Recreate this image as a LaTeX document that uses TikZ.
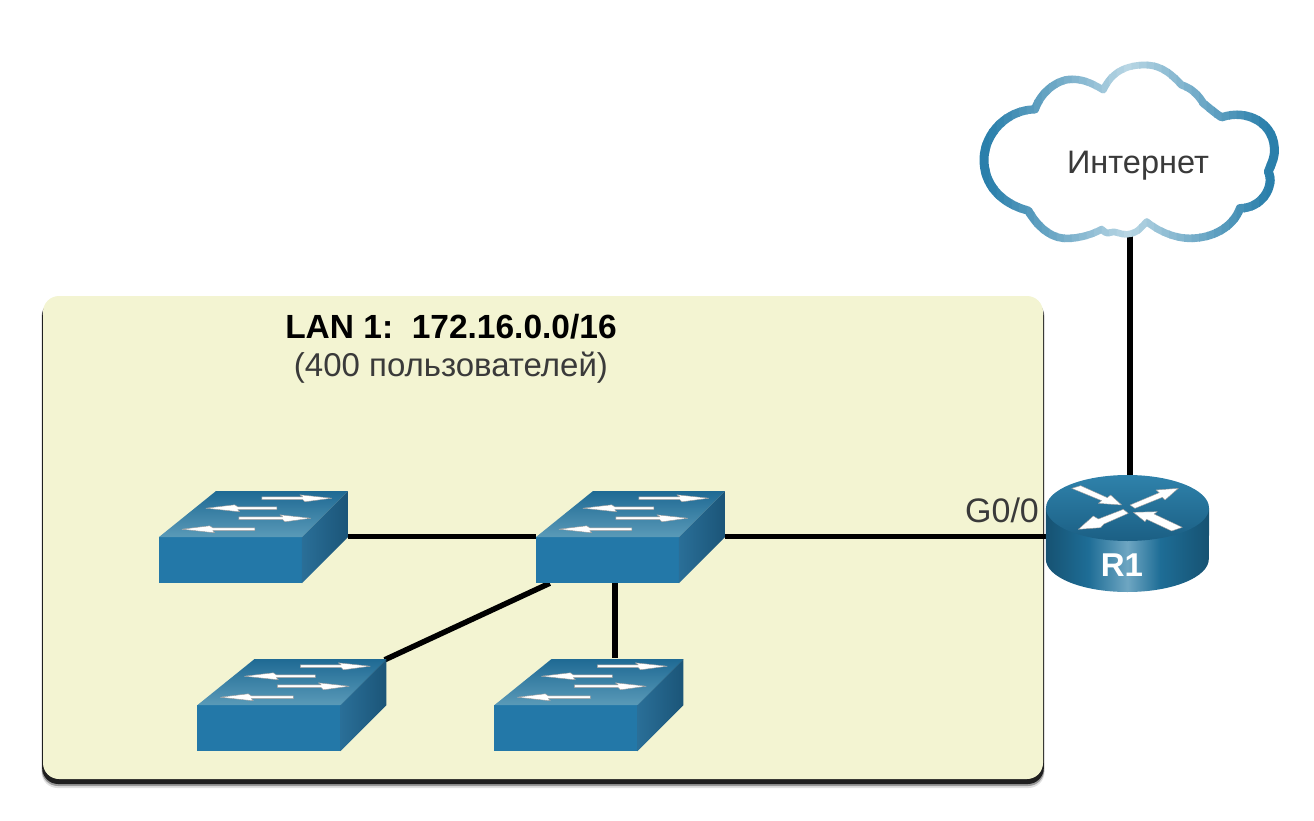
\documentclass[tikz,border=0pt]{standalone}
\usepackage{fontspec}
\setmainfont{Liberation Sans}
\usepackage{xcolor}
\usetikzlibrary{positioning,backgrounds}

\definecolor{panelfill}{HTML}{F3F4D2}
\definecolor{swfront}{HTML}{2378A8}
\definecolor{swback}{HTML}{1F6A94}
\definecolor{swnear}{HTML}{5A9AB8}
\definecolor{swsidea}{HTML}{2A6F98}
\definecolor{swsideb}{HTML}{1B5578}
\definecolor{cloudedge}{HTML}{2A7FAB}
\definecolor{cloudlight}{HTML}{B8D6E4}
\definecolor{rtdark}{HTML}{165272}
\definecolor{rtmid}{HTML}{1E6D96}
\definecolor{rtlight}{HTML}{6EA6C2}
\definecolor{rttop}{HTML}{2F82AB}
\definecolor{rtlow}{HTML}{1B5F84}
\definecolor{labeltext}{HTML}{3A3A3A}

\pgfdeclarehorizontalshading{routerside}{100bp}{color(0bp)=(rtdark); color(25bp)=(rtdark); color(38bp)=(rtmid);
  color(50bp)=(rtlight); color(60bp)=(rtmid); color(75bp)=(rtdark); color(100bp)=(rtdark)}

\tikzset{
  switchbox/.style={minimum width=189pt, minimum height=93pt, inner sep=0pt},
  routerbox/.style={minimum width=163pt, minimum height=117pt, inner sep=0pt},
  cloudbox/.style={minimum width=300pt, minimum height=180pt, inner sep=0pt},
  panelbox/.style={minimum width=1000pt, minimum height=483pt, inner sep=0pt, rounded corners=16pt},
  link/.style={black, line width=5.5pt},
  plain label/.style={text=labeltext, font=\fontsize{33}{36}\selectfont, inner sep=0pt},
  bold label/.style={text=black, font=\fontsize{33.5}{36}\selectfont\bfseries, inner sep=0pt},
  white arrow/.style={fill=white, draw=black!40, line width=0.4pt, line join=round},
}

\newcommand{\switcharrow}[4]{%
  \path[white arrow] (#1,#4-1.4) -- (#2,#4-1.4) -- (#2-3,#4-3.4) -- (#3,#4) -- (#2+2,#4+3.6)
    -- (#2,#4+1.4) -- (#1,#4+1.4) -- cycle;}

\newcommand{\switchicon}[2]{%
  \node[switchbox] (#1) at (#2) {};
  \begin{scope}[shift={(#1.south west)}]
    \fill[swfront] (0,0) rectangle (143,-46);
    \shade[top color=swback, bottom color=swnear] (0,-46) -- (143,-46) -- (189,-92) -- (57,-92) -- cycle;
    \shade[left color=swsidea, right color=swsideb] (143,0) -- (143,-46) -- (189,-92) -- (189,-46) -- cycle;
    \switcharrow{103}{144}{173}{-85}
    \switcharrow{118}{79}{47}{-75}
    \switcharrow{80}{124}{152}{-65}
    \switcharrow{96}{54}{23}{-54}
  \end{scope}}

\newcommand{\cloudpath}{(430,150) .. controls (455,95) and (500,75) .. (555,75)
  .. controls (610,75) and (640,110) .. (665,135) .. controls (695,145) and (715,165) .. (730,190)
  .. controls (750,205) and (765,220) .. (785,232) .. controls (860,205) and (950,250) .. (943,340)
  .. controls (940,365) and (930,380) .. (925,395) .. controls (945,440) and (905,505) .. (840,505)
  .. controls (820,560) and (760,595) .. (690,595) .. controls (640,595) and (590,570) .. (560,545)
  .. controls (545,560) and (535,580) .. (500,583) .. controls (480,585) and (465,570) .. (450,578)
  .. controls (440,582) and (432,575) .. (425,568) .. controls (385,590) and (340,597) .. (310,595)
  .. controls (265,590) and (230,555) .. (205,512) .. controls (120,490) and (70,430) .. (72,355)
  .. controls (75,280) and (140,210) .. (225,208) .. controls (245,150) and (300,115) .. (340,118)
  .. controls (375,118) and (405,135) .. (430,150) -- cycle}

\begin{document}
\begin{tikzpicture}[x=1pt, y=-1pt]
\useasboundingbox (0,0) rectangle (1314,821);

\switchicon{switch_0}{253.5,536.5}
\switchicon{switch_1}{630.5,536.5}
\switchicon{switch_2}{292,704.5}
\switchicon{switch_3}{589,704.5}

\node[cloudbox] (cloud) at (1130,151) {};
\begin{scope}[shift={(960,40)}, x=0.3333pt, y=-0.3333pt]
\fill[white] \cloudpath;
\end{scope}
\foreach \k in {0,...,41} {
  \pgfmathsetmacro\stripx{974+7.5*\k}
  \pgfmathsetmacro\stript{min(1,abs(\stripx+3.75-1128)/140)}
  \pgfmathsetmacro\strippct{100*\stript}
  \pgfmathsetmacro\stripw{6.5+2.5*\stript}
  \begin{scope}
    \clip (\stripx,50) rectangle (\stripx+8.5,250);
    \begin{scope}[shift={(960,40)}, x=0.3333pt, y=-0.3333pt]
      \draw[cloudedge!\strippct!cloudlight, line width=\stripw pt, line join=round] \cloudpath;
    \end{scope}
  \end{scope}
}
\node[plain label, font=\fontsize{32.5}{36}\selectfont] (cloud_text) at (1138,166) {Интернет};

\node[routerbox] (router) at (1127.5,533.5) {};
\shade[shading=routerside]
  (router.west |- 0,508) -- (router.west |- 0,559) arc[start angle=180, end angle=360, x radius=81.5pt, y radius=33pt]
  -- (router.east |- 0,508) -- cycle;
\shade[top color=rttop, bottom color=rtlow] (1127.5,508) ellipse [x radius=81.5pt, y radius=33pt];
\begin{scope}[shift={(950,450)}, x=0.3333pt, y=-0.3333pt]
\path[white arrow] (365,115) -- (392,107) -- (472,143) -- (482,135) -- (515,165) -- (445,160) -- (455,152) -- cycle;
\path[white arrow] (697,232) -- (665,243) -- (590,208) -- (585,215) -- (550,187) -- (622,185) -- (612,192) -- cycle;
\path[white arrow] (540,165) -- (555,175) -- (637,142) -- (645,150) -- (685,115) -- (618,120) -- (628,128) -- cycle;
\path[white arrow] (520,178) -- (535,190) -- (462,222) -- (452,233) -- (385,238) -- (430,198) -- (445,207) -- cycle;
\end{scope}
\node[text=white, font=\fontsize{33}{36}\selectfont\bfseries, inner sep=0pt] (router_text) at (1122,565) {R1};

\begin{pgfonlayer}{background}
\foreach \o/\c in {9/black!12, 7/black!40, 5/black!88} {
  \fill[\c, rounded corners=16pt] (43-\o/6,300) rectangle (1043+\o/6,779+\o);
}
\node[panelbox, fill=panelfill] (lan) at (543,537.5) {};
\draw[link] (switch_0) -- (switch_1);
\draw[link] (switch_1) -- (switch_1 -| router.west);
\draw[link] ([xshift=14pt]switch_1.south west) -- ([xshift=-2pt,yshift=-2pt]switch_2.north east);
\draw[link] ([xshift=-15.5pt]switch_1.south) -- ([xshift=26pt]switch_3.north);
\draw[link] ([yshift=8pt]cloud.south) -- (cloud.south |- router.north);
\end{pgfonlayer}

\node[bold label] (lan_title) at (451,327) {LAN 1:\ \ 172.16.0.0/16};
\node[plain label] (lan_users) at (451,368) {(400 пользователей)};
\node[plain label, font=\fontsize{34}{36}\selectfont] (port_label) at (1002,510) {G0/0};
\end{tikzpicture}
\end{document}
